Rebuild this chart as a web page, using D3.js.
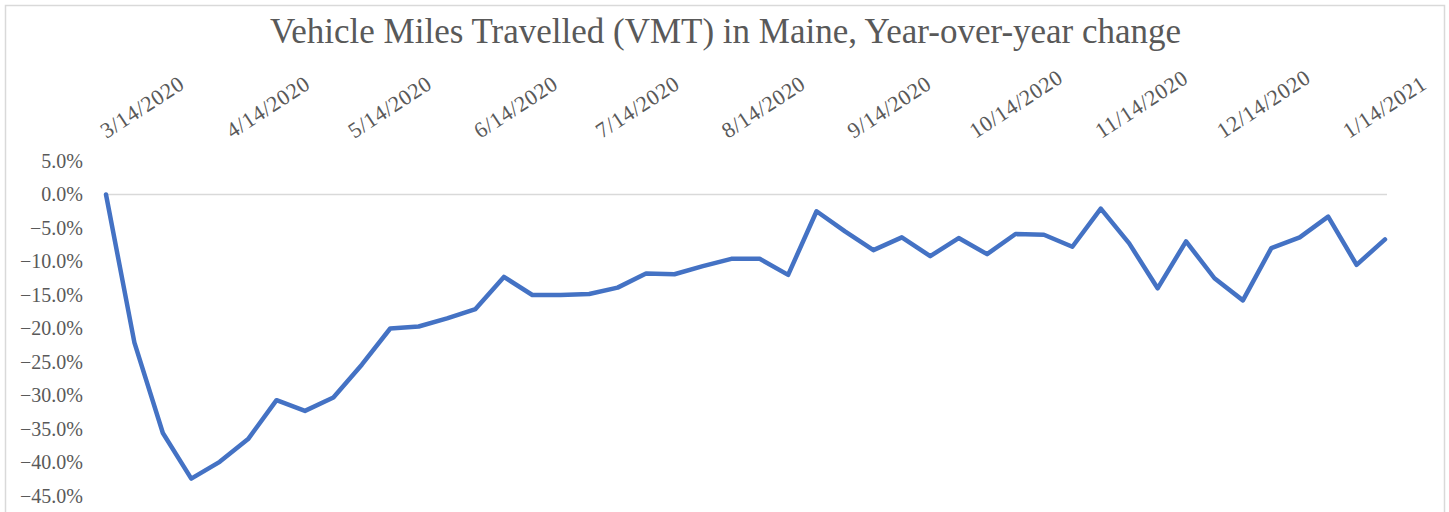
<!DOCTYPE html>
<html>
<head>
<meta charset="utf-8">
<script src="https://cdn.jsdelivr.net/npm/d3@7"></script>
<style>
  body { margin: 0; background: #fff; }
  text { font-family: Garamond, "Liberation Serif", serif; fill: #595959; }
</style>
</head>
<body>
<div id="chart"></div>
<script>
// chart size
const width = 1449;
const height = 512;

// weekly dates
const dates = [
  "3/14/2020", "3/21/2020", "3/28/2020", "4/4/2020", "4/11/2020", "4/18/2020", "4/25/2020",
  "5/2/2020", "5/9/2020", "5/16/2020", "5/23/2020", "5/30/2020", "6/6/2020", "6/13/2020",
  "6/20/2020", "6/27/2020", "7/4/2020", "7/11/2020", "7/18/2020", "7/25/2020", "8/1/2020",
  "8/8/2020", "8/15/2020", "8/22/2020", "8/29/2020", "9/5/2020", "9/12/2020", "9/19/2020",
  "9/26/2020", "10/3/2020", "10/10/2020", "10/17/2020", "10/24/2020", "10/31/2020", "11/7/2020",
  "11/14/2020", "11/21/2020", "11/28/2020", "12/5/2020", "12/12/2020", "12/19/2020", "12/26/2020",
  "1/2/2021", "1/9/2021", "1/16/2021", "1/23/2021"
];

// year-over-year change, percent
const vmtChange = [
  0.0, -22.1, -35.6, -42.4, -39.9, -36.5, -30.7,
  -32.3, -30.3, -25.4, -20.0, -19.7, -18.5, -17.1,
  -12.3, -15.0, -15.0, -14.85, -13.9, -11.8, -11.9,
  -10.7, -9.6, -9.6, -12.0, -2.5, -5.5, -8.3,
  -6.4, -9.2, -6.5, -8.9, -5.9, -6.0, -7.8,
  -2.1, -7.3, -14.0, -7.0, -12.5, -15.8, -8.0,
  -6.4, -3.3, -10.5, -6.7
];

// x tick labels
const tickLabels = [
  "3/14/2020", "4/14/2020", "5/14/2020", "6/14/2020", "7/14/2020", "8/14/2020",
  "9/14/2020", "10/14/2020", "11/14/2020", "12/14/2020", "1/14/2021"
];

// y ticks
const yTicks = [5, 0, -5, -10, -15, -20, -25, -30, -35, -40, -45];

const parse = d3.timeParse("%m/%d/%Y");
const data = dates.map((d, i) => ({ date: parse(d), value: vmtChange[i] }));

const svg = d3.select("#chart").append("svg")
    .attr("width", width)
    .attr("height", height);

// chart border
svg.append("rect")
    .attr("x", 5.5)
    .attr("y", 5.5)
    .attr("width", 1439)
    .attr("height", 540)
    .attr("fill", "#fff")
    .attr("stroke", "#d9d9d9")
    .attr("stroke-width", 1.5);

const x = d3.scaleTime()
    .domain(d3.extent(data, d => d.date))
    .range([106, 1385]);

const y = d3.scaleLinear()
    .domain([-45, 5])
    .range([496, 161]);

// title
svg.append("text")
    .attr("x", width / 2 + 1)
    .attr("y", 43)
    .attr("text-anchor", "middle")
    .style("font-size", "35px")
    .text("Vehicle Miles Travelled (VMT) in Maine, Year-over-year change");

// y axis labels
const yAxis = d3.axisLeft(y)
    .tickValues(yTicks)
    .tickSize(0)
    .tickPadding(0)
    .tickFormat(d => d3.format(".1f")(d) + "%");

svg.append("g")
    .attr("transform", "translate(83,0)")
    .call(yAxis)
    .call(g => g.select(".domain").remove())
    .selectAll("text")
    .style("font-size", "20px")
    .attr("fill", "#595959");

// axis line at zero
svg.append("line")
    .attr("x1", x.range()[0])
    .attr("x2", x.range()[1] + 2)
    .attr("y1", y(0))
    .attr("y2", y(0))
    .attr("stroke", "#d9d9d9")
    .attr("stroke-width", 1.5);

// x labels on top, rotated
const xAxis = d3.axisTop(x)
    .tickValues(tickLabels.map(parse))
    .tickSize(0)
    .tickFormat(d3.timeFormat("%-m/%-d/%Y"));

svg.append("g")
    .call(xAxis)
    .call(g => g.select(".domain").remove())
    .selectAll(".tick text")
    .attr("text-anchor", "start")
    .attr("x", 0)
    .attr("y", 0)
    .attr("dy", 0)
    .attr("transform", "translate(0,139) rotate(-33)")
    .style("font-size", "22px")
    .style("letter-spacing", "0.6px")
    .attr("fill", "#595959");

// line
const line = d3.line()
    .x(d => x(d.date))
    .y(d => y(d.value));

svg.append("path")
    .datum(data)
    .attr("d", line)
    .attr("fill", "none")
    .attr("stroke", "#4472c4")
    .attr("stroke-width", 4.5)
    .attr("stroke-linejoin", "round")
    .attr("stroke-linecap", "round");
</script>
</body>
</html>
